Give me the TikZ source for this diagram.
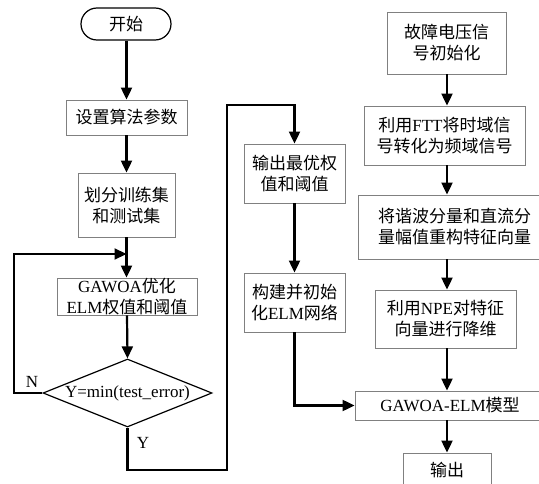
\documentclass[tikz,border=0pt]{standalone}
\usepackage{fontspec}
\setmainfont{Liberation Serif}
\newfontfamily\cjk{Noto Sans CJK SC}
\newcommand{\zh}[1]{{\cjk #1}}
\usetikzlibrary{arrows.meta,shapes.geometric}
\begin{document}
\begin{tikzpicture}[x=1pt,y=-1pt,
  every node/.style={font=\fontsize{17}{21}\selectfont},
  box/.style={draw=black!50,line width=0.9pt,align=center,inner sep=0pt,minimum width=#1},
  box/.default=100pt,
  arr/.style={line width=2.2pt,-{Triangle[length=12pt,width=11pt]}},
  ln/.style={line width=2.2pt}]
\useasboundingbox (0,0) rectangle (539,484);
\clip (0,0) rectangle (539,484);
% left column
\node[draw=black,line width=1.2pt,rounded corners=16pt,minimum width=90pt,minimum height=32pt,inner sep=0pt] (start) at (126,24) {\zh{开始}};
\node[box=121pt,minimum height=35pt] (s1) at (126.5,117.5) {\zh{设置算法参数}};
\node[box=97pt,minimum height=64pt] (s2) at (126.5,205) {\zh{划分训练集}\\\zh{和测试集}};
\node[box=140pt,minimum height=37pt] (s3) at (127,296.5) {GAWOA\zh{优化}\\ELM\zh{权值和阈值}};
\node[draw=black,line width=1.2pt,diamond,aspect=2.5,minimum width=169pt,minimum height=68pt,inner sep=0pt] (d) at (127.5,393) {};
\node at (127.5,393) {Y=min(test\_error)};
\node (N) at (32,382) {N};
\node (Y) at (143,443) {Y};
% middle column
\node[box=101pt,minimum height=59pt] (s4) at (294.5,173.5) {\zh{输出最优权}\\\zh{值和阈值}};
\node[box=101pt,minimum height=59pt] (s5) at (294.5,302.5) {\zh{构建并初始}\\\zh{化}ELM\zh{网络}};
% right column
\node[box=119pt,minimum height=62pt] (r1) at (446.5,43) {\zh{故障电压信}\\\zh{号初始化}};
\node[box=161pt,minimum height=59pt] (r2) at (444.5,135.5) {\zh{利用}FTT\zh{将时域信}\\\zh{号转化为频域信号}};
\node[box=193pt,minimum height=64pt] (r3) at (454.5,227) {\zh{将谐波分量和直流分}\\\zh{量幅值重构特征向量}};
\node[box=141pt,minimum height=58pt] (r4) at (445.5,319) {\zh{利用}NPE\zh{对特征}\\\zh{向量进行降维}};
\node[box=190pt,minimum height=29pt] (r5) at (450,405.5) {GAWOA-ELM\zh{模型}};
\node[box=88pt,minimum height=34pt] (r6) at (447,470) {\zh{输出}};
\coordinate (colL) at (126.5,0);
\coordinate (colR) at (447,0);
\coordinate (loopA) at (14,393);
\coordinate (loopB) at (14,254);
\coordinate (loopC) at (126.5,254);
\coordinate (yA) at (127.5,470);
\coordinate (yB) at (227,470);
\coordinate (yC) at (227,105);
\coordinate (yD) at (294.5,105);
\coordinate (mA) at (294.5,405.5);
% arrows left
\draw[arr] (start.south -| colL) -- (s1.north -| colL);
\draw[arr] (s1.south -| colL) -- (s2.north -| colL);
\draw[arr] (s2.south -| colL) -- (s3.north -| colL);
\draw[arr] (s3.south) -- (d.north);
\draw[arr] (d.west) -- (loopA) -- (loopB) -- (loopC);
\draw[arr] (d.south) -- (yA) -- (yB) -- (yC) -- (yD) -- (s4.north);
\draw[arr] (s4.south) -- (s5.north);
\draw[arr] (s5.south) -- (mA) -- (r5.west);
% arrows right
\draw[arr] (r1.south -| colR) -- (r2.north -| colR);
\draw[arr] (r2.south -| colR) -- (r3.north -| colR);
\draw[arr] (r3.south -| colR) -- (r4.north -| colR);
\draw[arr] (r4.south -| colR) -- (r5.north -| colR);
\draw[arr] (r5.south -| colR) -- (r6.north -| colR);
\end{tikzpicture}
\end{document}
